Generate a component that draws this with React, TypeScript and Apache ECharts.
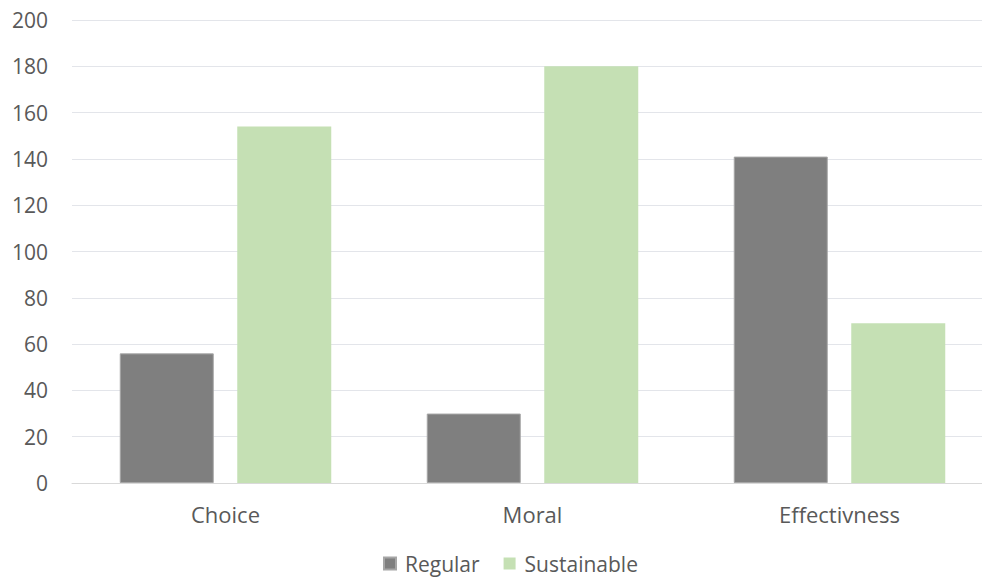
import React, { useEffect, useRef } from "react";
import * as echarts from "echarts";

const categories = ["Choice", "Moral", "Effectivness"];
const regular = [56, 30, 141];
const sustainable = [154, 180, 69];
const yTicks = { min: 0, max: 200, interval: 20 };

const FONT = "'Open Sans', 'Liberation Sans', sans-serif";
const TEXT = "#595959";

export default function App() {
  const ref = useRef<HTMLDivElement>(null);

  useEffect(() => {
    if (!ref.current) return;
    const chart = echarts.init(ref.current, undefined, { renderer: "svg" });
    chart.setOption({
      animation: false,
      backgroundColor: "#ffffff",
      textStyle: { fontFamily: FONT },
      // plot area runs a little past the right edge of the canvas
      grid: {
        left: 72,
        width: 921,
        top: 20,
        bottom: 96,
        containLabel: false,
        outerBoundsMode: "none",
      },
      legend: {
        bottom: 0,
        left: 378,
        itemWidth: 12,
        itemHeight: 12,
        itemGap: 24,
        icon: "rect",
        textStyle: { color: TEXT, fontSize: 21, fontFamily: FONT, padding: [0, 0, 0, 4] },
        data: ["Regular", "Sustainable"],
      },
      xAxis: {
        type: "category",
        data: categories,
        axisLine: { show: true, lineStyle: { color: "#d9d9d9", width: 1 } },
        axisTick: { show: false },
        axisLabel: { color: TEXT, fontSize: 22, margin: 20, fontFamily: FONT },
      },
      yAxis: {
        type: "value",
        min: yTicks.min,
        max: yTicks.max,
        interval: yTicks.interval,
        axisLine: { show: false },
        axisTick: { show: false },
        axisLabel: { color: TEXT, fontSize: 21, margin: 24, fontFamily: FONT },
        splitLine: { lineStyle: { color: "#e3e5ea", width: 1 } },
      },
      series: [
        {
          name: "Regular",
          type: "bar",
          data: regular,
          barWidth: 94,
          barGap: "25%",
          itemStyle: { color: "#7f7f7f", borderColor: "#a6a6a6", borderWidth: 1 },
        },
        {
          name: "Sustainable",
          type: "bar",
          data: sustainable,
          barWidth: 94,
          itemStyle: { color: "#c5e0b4" },
        },
      ],
    });
    return () => chart.dispose();
  }, []);

  return (
    <div
      ref={ref}
      style={{ position: "fixed", left: 0, top: 0, width: 982, height: 579 }}
    />
  );
}
